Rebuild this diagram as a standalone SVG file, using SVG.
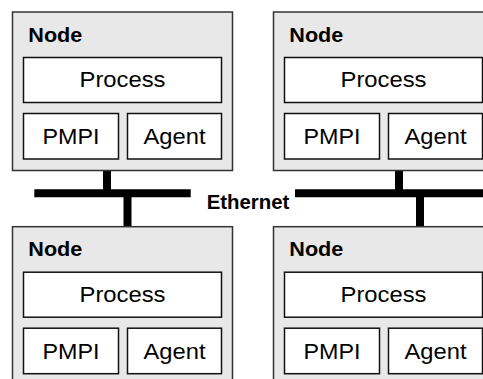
<svg xmlns="http://www.w3.org/2000/svg" width="483" height="379" viewBox="0 0 483 379">
<defs>
<style>
.node{fill:#e8e8e8;stroke:#333;stroke-width:1.5}
.box{fill:#fff;stroke:#111;stroke-width:1.5}
.lbl{font-family:"Liberation Sans",Arial,sans-serif;font-size:22px;fill:#000;text-anchor:middle}
.title{font-family:"Liberation Sans",Arial,sans-serif;font-size:20px;font-weight:bold;fill:#000}
.wire{stroke:#000;stroke-width:8;fill:none}
</style>
<g id="nodeShape">
<rect class="node" x="0" y="0" width="220" height="158.5"/>
<text class="title" x="15.8" y="29.7" textLength="54" lengthAdjust="spacingAndGlyphs">Node</text>
<rect class="box" x="11" y="45.5" width="198" height="45"/>
<text class="lbl" x="110" y="75" textLength="86" lengthAdjust="spacingAndGlyphs">Process</text>
<rect class="box" x="11" y="101.5" width="95" height="45.5"/>
<text class="lbl" x="58.5" y="132.2" textLength="57" lengthAdjust="spacingAndGlyphs">PMPI</text>
<rect class="box" x="115" y="101.5" width="94" height="45.5"/>
<text class="lbl" x="162" y="132.2" textLength="62" lengthAdjust="spacingAndGlyphs">Agent</text>
</g>
</defs>
<g id="connectors">
<line class="wire" x1="107" y1="170" x2="107" y2="193.3"/>
<line class="wire" x1="34.3" y1="193.3" x2="190.7" y2="193.3"/>
<line class="wire" x1="295" y1="193.3" x2="483" y2="193.3"/>
<line class="wire" x1="127.5" y1="193.3" x2="127.5" y2="227"/>
<line class="wire" x1="399" y1="170" x2="399" y2="193.3"/>
<line class="wire" x1="420" y1="193.3" x2="420" y2="227"/>
<text class="title" x="206.7" y="209" textLength="82.6" lengthAdjust="spacingAndGlyphs">Ethernet</text>
</g>
<g id="node1"><use href="#nodeShape" x="12.5" y="12"/></g>
<g id="node2"><use href="#nodeShape" x="273.5" y="12"/></g>
<g id="node3"><use href="#nodeShape" x="12.5" y="226.7"/></g>
<g id="node4"><use href="#nodeShape" x="273.5" y="226.7"/></g>
</svg>
